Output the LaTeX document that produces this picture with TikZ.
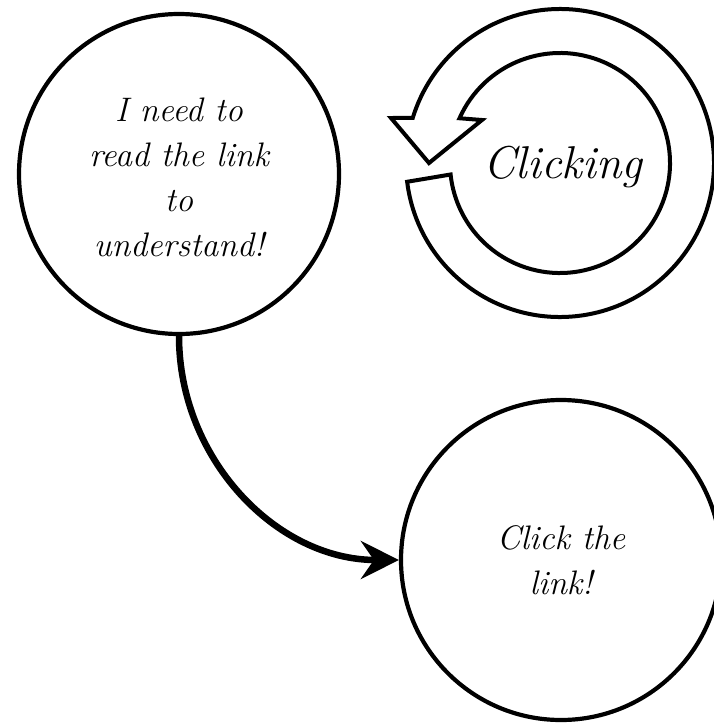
\documentclass[tikz,border=0pt]{standalone}
\usepackage{fontspec}
\usetikzlibrary{arrows.meta,calc}

\begin{document}
\begin{tikzpicture}[x=1pt,y=1pt,
  bubble/.style={circle,draw=black,line width=4.2pt,minimum size=320pt,inner sep=0pt,
    align=center,font=\fontsize{34}{45}\selectfont\itshape\addfontfeatures{LetterSpace=3,FakeBold=0.5}},
  flow/.style={line width=6.5pt,-{Stealth[length=38pt,width=38pt,inset=13pt]}},
  loop/.style={draw=black,line width=4pt,line join=miter,fill=white}]
  \useasboundingbox (0,0) rectangle (713,-723);

  % the two thought bubbles
  \node[bubble,text height=165pt,text depth=0pt] (need) at (179,-174) {I need to\\read the link\\to\\understand!};
  \node[bubble,text depth=-6pt] (click) at (561,-560) {Click the\\link!};

  % connector from the first bubble into the second
  \draw[flow] (need.south) to[out=-90,in=180] (click.west);

  % circular arrow around the word "Clicking"
  \coordinate (c) at (560,-163);
  \path[loop] ($(c)+(187:154)$) arc[start angle=187,end angle=523,radius=154]
    -- (391,-118) -- (429,-163) -- (482,-120)
    -- ($(c)+(516:110)$) arc[start angle=516,end angle=186,radius=110] -- cycle;
  \node[anchor=base,inner sep=0pt,font=\fontsize{46}{50}\selectfont\itshape\addfontfeatures{FakeBold=0.5}] (clicking) at (563,-178) {Clicking};
\end{tikzpicture}
\end{document}
